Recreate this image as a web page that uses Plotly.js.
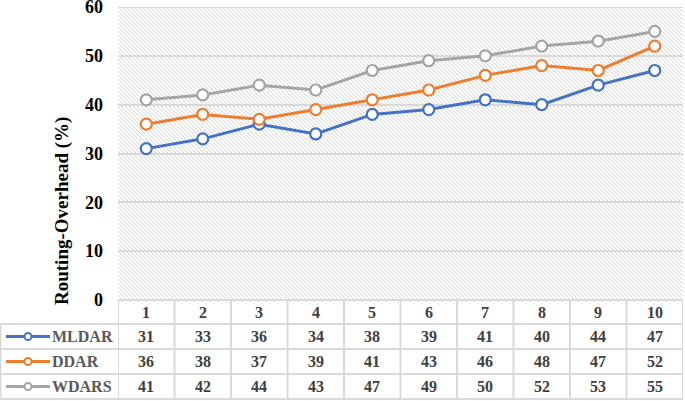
<!DOCTYPE html>
<html>
<head>
<meta charset="utf-8">
<script src="https://cdn.plot.ly/plotly-3.0.1.min.js"></script>
<style>
  html, body { margin: 0; padding: 0; background: #ffffff; }
  #wrap { position: relative; width: 685px; height: 401px; }
  #hatch { position: absolute; left: 118px; top: 7px; width: 565px; height: 293px;
    background-color: #ffffff;
    background-image: url("data:image/svg+xml,%3Csvg xmlns='http://www.w3.org/2000/svg' width='4' height='4'%3E%3Cpath d='M-1,-1 L5,5 M3,-1 L5,1 M-1,3 L1,5' stroke='%23d6d6d6' stroke-width='1'/%3E%3C/svg%3E");
    background-size: 4px 4px; }
  #chart { position: absolute; left: 0; top: 0; width: 685px; height: 401px; }
</style>
</head>
<body>
<div id="wrap">
  <div id="hatch"></div>
  <div id="chart"></div>
</div>
<script>
const categories = [1, 2, 3, 4, 5, 6, 7, 8, 9, 10];
const seriesNames = ["MLDAR", "DDAR", "WDARS"];
const mldar = [31, 33, 36, 34, 38, 39, 41, 40, 44, 47];
const ddar  = [36, 38, 37, 39, 41, 43, 46, 48, 47, 52];
const wdars = [41, 42, 44, 43, 47, 49, 50, 52, 53, 55];
const yTicks = [0, 10, 20, 30, 40, 50, 60];
const yTitle = "Routing-Overhead (%)";

const seriesValues = [mldar, ddar, wdars];
const colors = ["#4472C4", "#ED7D31", "#A5A5A5"];

const W = 685, H = 401;
const M = { l: 118, r: 2, t: 7, b: 101 };
const PW = W - M.l - M.r, PH = H - M.t - M.b;
const px2x = p => (p - M.l) / PW;
const px2y = p => (H - M.b - p) / PH;

const font = "'Liberation Serif', 'Times New Roman', serif";
const gridColor = "#d9d9d9";

const traces = seriesValues.map((vals, i) => ({
  type: "scatter", mode: "lines+markers",
  x: categories, y: vals, name: seriesNames[i],
  line: { color: colors[i], width: 3 },
  marker: { symbol: "circle", size: 11, color: "#ffffff", line: { color: colors[i], width: 2.2 } },
  cliponaxis: false,
  hoverinfo: "skip"
}));

const shapes = [];
const annotations = [];

const headerTop = 300, rowTops = [324, 349, 374, 399];
const lineStyle = { color: gridColor, width: 2 };

shapes.push({ type: "line", xref: "paper", yref: "y", x0: 0, x1: 1, y0: yTicks[yTicks.length - 1], y1: yTicks[yTicks.length - 1], line: { color: gridColor, width: 2 } });
shapes.push({ type: "line", xref: "paper", yref: "paper", x0: 0, x1: 1, y0: px2y(headerTop), y1: px2y(headerTop), line: lineStyle });
rowTops.forEach(py => shapes.push({ type: "line", xref: "paper", yref: "paper", x0: px2x(0.5), x1: 1, y0: px2y(py), y1: px2y(py), line: lineStyle }));
for (let k = 0; k <= categories.length; k++) {
  const xv = categories[0] - 0.5 + k;
  shapes.push({ type: "line", xref: "x", yref: "paper", x0: xv, x1: xv, y0: px2y(headerTop), y1: px2y(rowTops[3]), line: lineStyle });
}
shapes.push({ type: "line", xref: "paper", yref: "paper", x0: px2x(0.5), x1: px2x(0.5), y0: px2y(rowTops[0]), y1: px2y(rowTops[3]), line: lineStyle });

const cellFont = { family: font, size: 16, color: "#404040" };
categories.forEach(c => annotations.push({ xref: "x", yref: "paper", x: c, y: px2y((headerTop + rowTops[0]) / 2), text: "<b>" + c + "</b>", showarrow: false, font: cellFont, xanchor: "center", yanchor: "middle" }));
seriesValues.forEach((vals, i) => {
  const cy = (rowTops[i] + rowTops[i + 1]) / 2;
  vals.forEach((v, j) => annotations.push({ xref: "x", yref: "paper", x: categories[j], y: px2y(cy), text: "<b>" + v + "</b>", showarrow: false, font: cellFont, xanchor: "center", yanchor: "middle" }));
  shapes.push({ type: "line", xref: "paper", yref: "paper", x0: px2x(6), x1: px2x(50), y0: px2y(cy), y1: px2y(cy), line: { color: colors[i], width: 3 } });
  shapes.push({ type: "circle", xref: "paper", yref: "paper", x0: px2x(24.5), x1: px2x(31.5), y0: px2y(cy + 3.5), y1: px2y(cy - 3.5), fillcolor: "#ffffff", line: { color: colors[i], width: 2 } });
  annotations.push({ xref: "paper", yref: "paper", x: px2x(50), y: px2y(cy), text: "<b>" + seriesNames[i] + "</b>", showarrow: false, font: { family: font, size: 16, color: "#595959" }, xanchor: "left", yanchor: "middle" });
});

annotations.push({ xref: "paper", yref: "paper", x: px2x(62), y: px2y(211), text: "<b>" + yTitle + "</b>", textangle: -90, showarrow: false, font: { family: font, size: 19, color: "#000000" }, xanchor: "center", yanchor: "middle" });

const layout = {
  width: W, height: H,
  margin: M,
  paper_bgcolor: "rgba(0,0,0,0)",
  plot_bgcolor: "rgba(0,0,0,0)",
  showlegend: false,
  xaxis: { range: [0.5, 10.5], showticklabels: false, showgrid: false, zeroline: false, showline: false, ticks: "", fixedrange: true },
  yaxis: { range: [0, 60.001], tickvals: yTicks, ticktext: yTicks.map(t => "<b>" + t + "</b>"), ticklabeloverflow: "allow", showgrid: true, gridcolor: gridColor, gridwidth: 2, zeroline: false, showline: false, ticks: "", ticklabelstandoff: 14, tickfont: { family: font, size: 18, color: "#000000" }, fixedrange: true },
  shapes: shapes,
  annotations: annotations
};

Plotly.newPlot("chart", traces, layout, { staticPlot: true, displayModeBar: false });
</script>
</body>
</html>
